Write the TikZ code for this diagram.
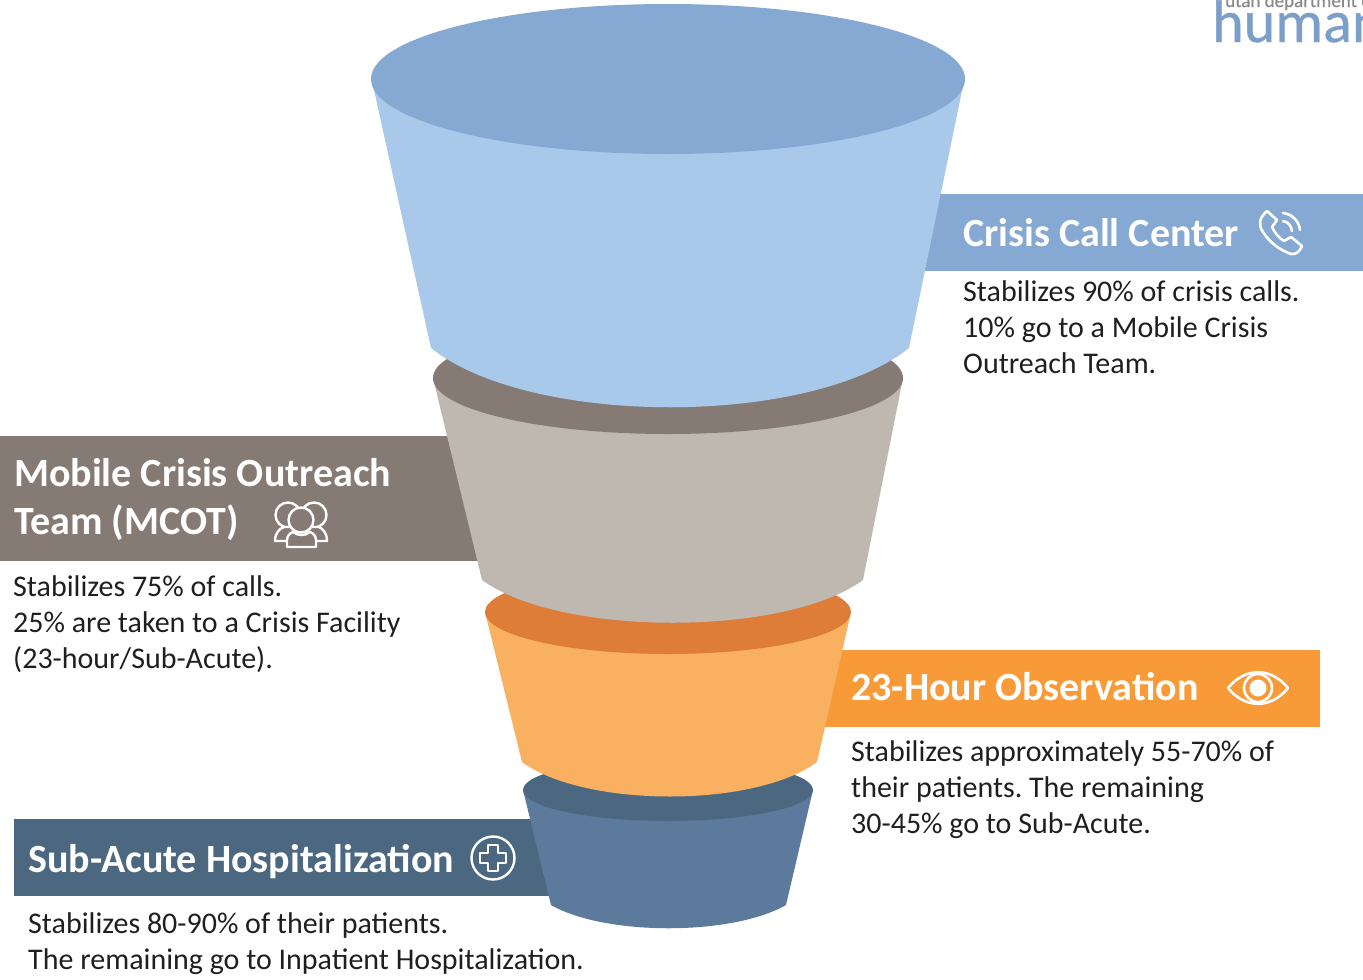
\documentclass[tikz,border=0pt]{standalone}
\usepackage{fontspec}
\setmainfont{Carlito}
\newfontfamily\logofont[FakeBold=0.6]{Carlito}
\frenchspacing
\definecolor{blueTop}{HTML}{85A9D2}
\definecolor{blueBody}{HTML}{A8C9EA}
\definecolor{grayTop}{HTML}{857A74}
\definecolor{grayBody}{HTML}{BEB8B1}
\definecolor{orTop}{HTML}{DE7D38}
\definecolor{orBody}{HTML}{F9B060}
\definecolor{orBan}{HTML}{F89A38}
\definecolor{navyTop}{HTML}{4C6881}
\definecolor{navyBody}{HTML}{5C7A9C}
\definecolor{logoBlue}{HTML}{7C9FC9}
\definecolor{logoGray}{HTML}{8A8A8A}
\tikzset{
  head/.style={anchor=base west,inner sep=0pt,text=white,font=\fontsize{40}{40}\selectfont\bfseries},
  body/.style={anchor=base west,inner sep=0pt,text=black!88,font=\fontsize{30}{36}\selectfont,align=left},
  icon/.style={draw=white,line width=2.6pt,line join=round,line cap=round}
}
\begin{document}
\begin{tikzpicture}[x=1pt,y=-1pt]
\useasboundingbox (0,0) rectangle (1363,980);
\clip (0,0) rectangle (1363,980);
% logo
\node[anchor=base west,inner sep=0pt,text=logoGray,font=\fontsize{19}{19}\selectfont\logofont] (logotop) at (1225,7) {utah department of};
\node[anchor=base west,inner sep=0pt,text=logoBlue,font=\fontsize{60}{60}\selectfont\logofont] (logomain) at (1212,42) {human};
% banners
\fill[blueTop] (925,194) rectangle (1363,271);
\fill[grayTop] (0,436) rectangle (490,561);
\fill[orBan] (820,650) rectangle (1320,727);
\fill[navyTop] (14,819) rectangle (560,896);
% navy
\fill[navyBody] (523,790) -- (551,905) .. controls (605,936) and (732,936) .. (786,905) -- (813,790) -- cycle;
\fill[navyTop] (668,790) ellipse [x radius=145,y radius=31];
% orange
\fill[orBody] (485,612) -- (522,762) .. controls (585,808) and (755,808) .. (817,762) -- (851,612) -- cycle;
\fill[orTop] (668,612) ellipse [x radius=183,y radius=42];
% gray
\fill[grayBody] (433,378) -- (482,580) .. controls (560,637) and (785,637) .. (863,580) -- (903,378) -- cycle;
\fill[grayTop] (668,378) ellipse [x radius=235,y radius=56];
% blue
\fill[blueBody] (372,81) -- (431,348) .. controls (530,427) and (810,427) .. (909,348) -- (964,81) -- cycle;
\fill[blueTop] (668,79) ellipse [x radius=297,y radius=75];
% headings
\node[head] (h1) at (963,246) {Crisis Call Center};
\node[head] (h2a) at (14,486) {Mobile Crisis Outreach};
\node[head] (h2b) at (14,534) {Team (MCOT)};
\node[head] (h3) at (851,700) {23-Hour Observation};
\node[head] (h4) at (28,872) {Sub-Acute Hospitalization};
% body
\node[body] (b1a) at (963,301) {Stabilizes 90\% of crisis calls.};
\node[body] (b1b) at (963,337) {10\% go to a Mobile Crisis};
\node[body] (b1c) at (963,373) {Outreach Team.};
\node[body] (b2a) at (13,596) {Stabilizes 75\% of calls.};
\node[body] (b2b) at (13,632) {25\% are taken to a Crisis Facility};
\node[body] (b2c) at (13,668) {(23-hour/Sub-Acute).};
\node[body] (b3a) at (851,761) {Stabilizes approximately 55-70\% of};
\node[body] (b3b) at (851,797) {their patients. The remaining};
\node[body] (b3c) at (851,833) {30-45\% go to Sub-Acute.};
\node[body] (b4a) at (28,933) {Stabilizes 80-90\% of their patients.};
\node[body] (b4b) at (28,969) {The remaining go to Inpatient Hospitalization.};
% phone icon
\draw[icon] (1267,211) .. controls (1259,218) and (1258,225) .. (1263,232)
  .. controls (1270,243) and (1280,250) .. (1291,254)
  .. controls (1296,255) and (1300,251) .. (1302,246)
  -- (1291,237) -- (1284,241)
  .. controls (1279,238) and (1275,233) .. (1272,227)
  -- (1277,220) -- cycle;
\draw[icon] (1283,221) .. controls (1288,222) and (1291,225) .. (1292,231);
\draw[icon] (1283,213) .. controls (1292,214) and (1299,221) .. (1300,230);
% people icon
\draw[icon,line width=2.4pt] (288,515) circle (12.5);
\draw[icon,line width=2.4pt] (314,515) circle (12.5);
\draw[icon,line width=2.4pt,fill=grayTop] (275,541) .. controls (275,533) and (279,529) .. (284,527) -- (319,527) .. controls (323,529) and (327,533) .. (327,541) -- cycle;
\draw[icon,line width=2.4pt,fill=grayTop] (287,547) -- (287,540) .. controls (287,536) and (290,533) .. (293,532) .. controls (298,536) and (305,536) .. (310,532) .. controls (313,533) and (316,536) .. (316,540) -- (316,547) -- cycle;
\draw[icon,line width=2.4pt,fill=grayTop] (301,520) circle (12.5);
% eye icon
\draw[icon] (1228,688) .. controls (1245,667) and (1271,667) .. (1288,688) .. controls (1271,709) and (1245,709) .. (1228,688) -- cycle;
\draw[icon] (1258,688) circle (14);
\fill[white] (1258,688) circle (8.5);
% cross icon
\draw[icon,line width=2.4pt] (493,858) circle (21.5);
\draw[icon,line width=2.4pt] (488,845) -- (498,845) -- (498,853) -- (506,853) -- (506,863) -- (498,863) -- (498,871) -- (488,871) -- (488,863) -- (480,863) -- (480,853) -- (488,853) -- cycle;
\end{tikzpicture}
\end{document}
